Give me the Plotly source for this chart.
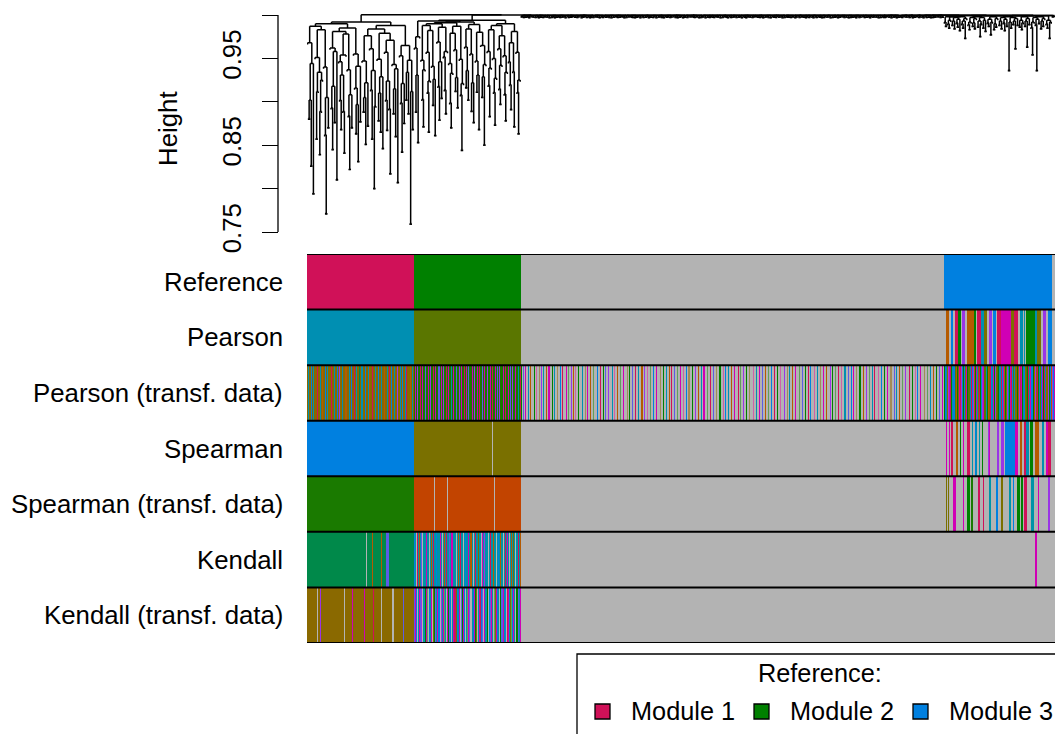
import sys
import plotly.graph_objects as go

sys.setrecursionlimit(10000)

# ---------------------------------------------------------------------------
# Gene layout (dendrogram order): module 1, module 2, background, module 3, tail
# ---------------------------------------------------------------------------
N_M1, N_M2, N_BG, N_M3, N_TAIL = 100, 100, 396, 101, 3
N_GENES = N_M1 + N_M2 + N_BG + N_M3 + N_TAIL

# Merge heights between neighbouring leaves (an ordered dendrogram is fully
# described by these).  Modules 1 and 2 are given in thousandths.
m1_gaps = [
    968, 881, 902, 827, 944, 795, 987, 951, 858, 912,
    934, 840, 889, 925, 983, 940, 862, 772, 905, 871,
    990, 962, 893, 846, 918, 877, 958, 811, 981, 946,
    902, 869, 931, 889, 842, 954, 978, 937, 884, 823,
    908, 871, 985, 955, 916, 864, 897, 832, 941, 878,
    992, 947, 889, 905, 852, 922, 873, 976, 961, 914,
    858, 936, 801, 895, 984, 949, 879, 910, 866, 929,
    847, 979, 957, 902, 868, 924, 892, 818, 971, 943,
    887, 915, 861, 938, 808, 988, 953, 899, 843, 921,
    876, 965, 903, 934, 887, 948, 760, 912, 869,
]
m2_gaps = [
    962, 889, 931, 854, 975, 993, 948, 903, 872, 937,
    988, 957, 911, 866, 924, 982, 941, 897, 926, 862,
    990, 969, 918, 880, 946, 905, 986, 952, 914, 887,
    958, 991, 944, 899, 871, 933, 979, 960, 913, 928,
    894, 987, 949, 908, 845, 921, 992, 963, 917, 936,
    903, 984, 955, 890, 922, 877, 989, 947, 912, 931,
    869, 980, 965, 906, 929, 851, 943, 994, 958, 919,
    884, 939, 983, 950, 911, 874, 927, 988, 961, 915,
    898, 942, 976, 953, 909, 879, 934, 990, 946, 920,
    892, 968, 935, 872, 981, 957, 911, 864, 925,
]
# Background genes: each digit d is a merge at 0.9998 - 0.0003 * d
bg_gap_digits = (
    "3152403612 2405136241 5031426053 1624035142 3601524310 4253016432 1503642513 2416035214 0352614023 5142036251 "
    "3024516340 2613504126 3405126043 1536024315 4021536142 0634152031 2451306254 3160425314 5023416052 1346025143 "
    "2504316024 6132405312 0425136043 3516024251 1403625134 4250316402 5130426315 2046135024 3615204136 0524316240 "
    "1352406153 4036125402 2514036214 3042615035 5301426143 1624035021 4035126340 2153046215 0426153402 31524"
).replace(" ", "")
m3_gaps = [
    0.992, 0.988, 0.998, 0.990, 0.986, 0.994, 0.998, 0.989, 0.993, 0.985,
    0.997, 0.991, 0.987, 0.995, 0.983, 0.998, 0.990, 0.986, 0.993, 0.974,
    0.996, 0.999, 0.989, 0.984, 0.992, 0.997, 0.988, 0.991, 0.985, 0.996,
    0.998, 0.987, 0.993, 0.976, 0.990, 0.997, 0.986, 0.994, 0.982, 0.999,
    0.991, 0.988, 0.995, 0.978, 0.992, 0.998, 0.984, 0.990, 0.987, 0.996,
    0.999, 0.989, 0.993, 0.985, 0.997, 0.991, 0.983, 0.995, 0.988, 0.998,
    0.937, 0.992, 0.986, 0.997, 0.990, 0.993, 0.962, 0.996, 0.989, 0.999,
    0.987, 0.994, 0.984, 0.991, 0.998, 0.988, 0.993, 0.964, 0.996, 0.990,
    0.999, 0.986, 0.955, 0.992, 0.997, 0.989, 0.937, 0.995, 0.991, 0.998,
    0.985, 0.993, 0.988, 0.996, 0.999, 0.990, 0.986, 0.994, 0.974, 0.992,
]
tail_gaps = [0.9989, 0.9994]
ROOT_H = 1.0002          # module 1 | rest
M2_BG_H = 0.9999         # module 2 | background
BG_M3_H = 0.9996         # background | module 3
M3_TAIL_H = 0.9993       # module 3 | tail
HANG = 0.002

# ---------------------------------------------------------------------------
# Colour rows
# ---------------------------------------------------------------------------
PALETTE = {
    ".": "#B3B3B3", "R": "#D01158", "G": "#008000", "B": "#0080E0",
    "T": "#008FB2", "O": "#5A7600", "Y": "#7A7000", "L": "#1A7A00",
    "E": "#C24400", "K": "#00894A", "N": "#8A6900", "M": "#D000B5",
    "P": "#9A35E6", "A": "#B55A00", "C": "#0094A8", "V": "#5C5CE6",
    "S": "#5FA05A", "H": "#D060A8", "W": "#A38B55",
}
row_names = ["Reference", "Pearson", "Pearson (transf. data)", "Spearman",
             "Spearman (transf. data)", "Kendall", "Kendall (transf. data)"]

# each row: runs (code, count) or literal per-gene code strings
row_reference = [("R", 100), ("G", 100), (".", 396), ("B", 101), (".", 3)]
row_pearson = [
    ("T", 100), ("O", 100), (".", 396),
    "..AAA..BB. RRRGGG.PPP ..AAAAAAGG .RRRRTTTYY ..PPP.BBB. RRRMMMMMMM "
    "MMMYYYRRR. .TTT.C.GGG GGGGGTTYYY Y..PPP.BBB B",
    (".", 3),
]
row_pearson_tr = [
    "NTNNBNTNNR NNTNANNBNT NNRNNTNNBN PNNTNNANNT NBNNRNTNNK NTNNBNNTAN "
    "NRNNTNBNNT NNANNTNRNB NTNNPNNTNB NNTRNNANTN",
    "LMLPLLRLML VLLMLPLLRL MLLVLMLPLL RLMLLTLMLV LLPLMLLRLM LVLLMLPLLM "
    "LRLLVLMLPL LMLRLLMLVL PLLMLRLLML VLPLLMLTLR",
    "G.V.M..T.A ..G.H..W.P .C..A.M..G .T..W..B.R ..M.S..P.A .H..G..T.. "
    "W.M..A..S. .B..R..G.V ..P..T.H.. A..S..M..W .G..V..R.. T..A.P..H. "
    ".S..B..M.. W..G..T..A .R.V..S..M ..H..B.W.. G..P..A..T .M..S..R.. "
    "V..W..G..H .B..T..A.. M..R.S..P. .G..W..H.. T..M..V..A .S..B..R.. "
    "G..H..P..W .T..A..M.. S..V..G..R .B..H..T.. W..M..A..P .G..S..R.. "
    "H..T..V..B .M..W..G.. A..P..S..T .R..H..B.. G..M..W..V .T..A..S.. "
    "P..R..G..H .B..M..W.. S..T..A..G .V..M.",
    "GBTNPMRGTB OAGNMRPTGB NMGOTRBPAG MTNRGBPMOT GANRBTMGPN OGTRBMAGNP "
    "TGMRBOTNGA PRMGTBNOGR TMBGAPNRGT OBMGRTNPGB A",
    "PBM",
]
row_spearman = [
    ("B", 100), ("Y", 73), (".", 1), ("Y", 26), (".", 396),
    "..M..M.RR. .AA..G..M. ..RR..C..B T..C..G... .PM....... PP.PPP.BBB "
    "BBBBBBBMM. .AA..RRTTT .GG..AAAA. ..TT..MRRR .",
    (".", 3),
]
row_spearman_tr = [
    ("L", 100), ("E", 19), (".", 1), ("E", 11), (".", 1), ("E", 43), (".", 1), ("E", 24),
    (".", 396),
    "..Y.Y....M M.......M. ..GG.LL... ..RR...R.. ..CC.....B B..YY..... "
    ".CC..B..GG G.GG.RRR.. ..CC....M. .......PP. .",
    (".", 3),
]
row_kendall = [
    ("K", 55), (".", 1), ("K", 5), ("A", 1), ("K", 7), ("A", 1), ("K", 4), ("V", 3), ("K", 23),
    "BC.RCACV.C CMCC.CACRC CBCCMC.CAC RCCVCMMCC. CACRCC.CBC CMCAC.CRCC "
    "YCC.MCPCC. CRCCACC.CB CAC.CRCMC. CACYC.CRCA",
    (".", 396), (".", 85), ("M", 2), (".", 14), (".", 3),
]
row_kendall_tr = [
    ("N", 9), (".", 1), ("N", 2), ("P", 1), ("N", 22), (".", 1), ("N", 6), ("M", 1),
    ("N", 10), ("M", 1), ("N", 8), ("R", 1), ("N", 6), (".", 1), ("N", 10), (".", 1),
    ("N", 9), ("V", 1), ("N", 9),
    "VMB.CMVP.C GMS.BCM.YG VCMB.PCMSC .MGVB.CMRY BCM.VGMB.C SMV.CBMGY. "
    "CMRBV.MCG. BVMC.SYMBC .GVMCB.RMC YSBMC.GVCM",
    (".", 396), (".", 101), (".", 3),
]
rows = [row_reference, row_pearson, row_pearson_tr, row_spearman,
        row_spearman_tr, row_kendall, row_kendall_tr]

legend_labels = ["Module 1", "Module 2", "Module 3"]
legend_codes = ["R", "G", "B"]


def expand(row):
    out = []
    for seg in row:
        if isinstance(seg, tuple):
            out.extend(seg[0] * seg[1])
        else:
            out.extend(seg.replace(" ", ""))
    return out


codes = list(PALETTE.keys())
code_idx = {c: i for i, c in enumerate(codes)}
Z = []
for r in rows:
    e = expand(r)
    assert len(e) == N_GENES, len(e)
    Z.append([code_idx[c] + 0.5 for c in e])

K = len(codes)
colorscale = []
for i, c in enumerate(codes):
    colorscale.append([i / K, PALETTE[c]])
    colorscale.append([(i + 1) / K, PALETTE[c]])

# ---------------------------------------------------------------------------
# Dendrogram segments from the neighbour merge heights
# ---------------------------------------------------------------------------
bg_gaps = [0.9998 - 0.0003 * int(d) for d in bg_gap_digits]
gaps = ([g / 1000 for g in m1_gaps] + [ROOT_H] + [g / 1000 for g in m2_gaps] + [M2_BG_H]
        + bg_gaps + [BG_M3_H] + m3_gaps + [M3_TAIL_H] + tail_gaps)
assert len(gaps) == N_GENES - 1, len(gaps)

seg_x, seg_y = [], []


def add(x0, y0, x1, y1):
    seg_x.extend([x0, x1, None])
    seg_y.extend([y0, y1, None])


def build(a, b):
    if a == b:
        return float(a), None
    k = max(range(a, b), key=lambda i: gaps[i])
    h = gaps[k]
    xl, hl = build(a, k)
    xr, hr = build(k + 1, b)
    for xc, hc in ((xl, hl), (xr, hr)):
        add(xc, hc if hc is not None else h - HANG, xc, h)
    add(xl, h, xr, h)
    return (xl + xr) / 2, h


build(0, N_GENES - 1)

# ---------------------------------------------------------------------------
# Figure
# ---------------------------------------------------------------------------
W, H = 1055, 734
FONT = "Liberation Sans, Arial, Helvetica, sans-serif"
LABEL_SIZE = 25.8
X0 = 307 / W


def py(px):
    return 1 - px / H


# height scale: 0.75 at 232 px, 1.00 at 15 px
y_lo, y_hi = 0.745, 1.006
ppu = (232 - 15) / 0.25
dom_d = [py(232 + (0.75 - y_lo) * ppu), py(15 - (y_hi - 1.0) * ppu)]

fig = go.Figure()
fig.add_trace(go.Scatter(x=seg_x, y=seg_y, mode="lines",
                         line=dict(color="black", width=1.5),
                         hoverinfo="skip", showlegend=False,
                         xaxis="x", yaxis="y"))
fig.add_trace(go.Heatmap(z=Z, x=list(range(N_GENES)), y=list(range(len(rows))),
                         colorscale=colorscale, zmin=0, zmax=K, showscale=False,
                         zsmooth=False, hoverinfo="skip", xaxis="x2", yaxis="y2"))

xr_ = [-0.5, N_GENES - 0.5]
fig.update_layout(
    width=W, height=H,
    margin=dict(l=0, r=0, t=0, b=0, pad=0, autoexpand=False),
    showlegend=False,
    paper_bgcolor="white", plot_bgcolor="white",
    font=dict(family=FONT, size=25, color="black"),
    xaxis=dict(domain=[X0, 1], range=xr_, visible=False, anchor="y", automargin=False),
    xaxis2=dict(domain=[X0, 1], range=xr_, visible=False, anchor="y2", automargin=False),
    yaxis=dict(domain=dom_d, range=[y_lo, y_hi], anchor="free", position=278 / W,
               automargin=False,
               tickvals=[0.75, 0.80, 0.85, 0.90, 0.95, 1.00],
               ticktext=["0.75", "", "0.85", "", "0.95", ""],
               tickangle=-90, ticks="outside", ticklen=16, tickwidth=1.3,
               tickcolor="black", showgrid=False, zeroline=False, showline=False,
               ticklabelstandoff=11,
               tickfont=dict(family=FONT, size=LABEL_SIZE, color="black")),
    yaxis2=dict(domain=[py(643), py(254)], range=[len(rows) - 0.5, -0.5],
                visible=False, anchor="x2", automargin=False),
)

shapes = [dict(type="line", xref="paper", yref="y", x0=278 / W, x1=278 / W,
               y0=0.75, y1=1.0, line=dict(color="black", width=1.3))]
for b in range(len(rows) + 1):
    shapes.append(dict(type="line", xref="paper", yref="y2", x0=X0, x1=1,
                       y0=b - 0.5, y1=b - 0.5, line=dict(color="black", width=2)))
# legend box
shapes.append(dict(type="rect", xref="paper", yref="paper", x0=577 / W, x1=1.05,
                   y0=py(654), y1=-0.05, line=dict(color="black", width=1.3),
                   fillcolor="white"))
key_x = [595, 754, 913]
text_x = [629, 788, 947]
for kx, code in zip(key_x, legend_codes):
    shapes.append(dict(type="rect", xref="paper", yref="paper",
                       x0=kx / W, x1=(kx + 15) / W, y0=py(719), y1=py(704),
                       line=dict(color="black", width=1.3), fillcolor=PALETTE[code]))
fig.update_layout(shapes=shapes)

ann = []
for i, name in enumerate(row_names):
    ann.append(dict(x=285 / W, xref="paper", y=i, yref="y2", text=name,
                    showarrow=False, xanchor="right", yanchor="middle",
                    font=dict(family=FONT, size=LABEL_SIZE, color="black")))
ann.append(dict(x=168 / W, xref="paper", y=py(129), yref="paper", text="Height",
                textangle=-90, showarrow=False, xanchor="center", yanchor="middle",
                font=dict(family=FONT, size=LABEL_SIZE, color="black")))
ann.append(dict(x=820 / W, xref="paper", y=py(673), yref="paper", text="Reference:",
                showarrow=False, xanchor="center", yanchor="middle",
                font=dict(family=FONT, size=25.3, color="black")))
for tx, lab in zip(text_x, legend_labels):
    ann.append(dict(x=tx / W, xref="paper", y=py(711), yref="paper", text=lab,
                    showarrow=False, xanchor="left", yanchor="middle",
                    font=dict(family=FONT, size=25.3, color="black")))
fig.update_layout(annotations=ann)

fig.write_html("out.html")
